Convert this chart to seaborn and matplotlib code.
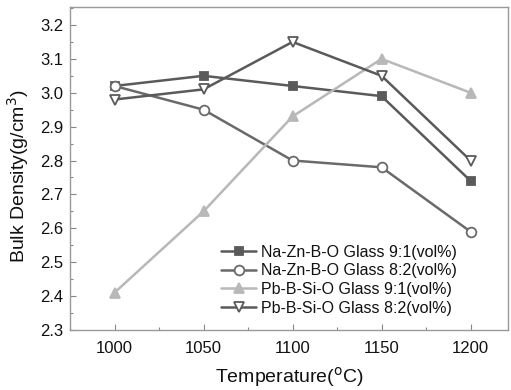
import matplotlib
matplotlib.use("Agg")
import matplotlib.pyplot as plt
import seaborn as sns
import pandas as pd
from matplotlib.ticker import MultipleLocator

temps = [1000, 1050, 1100, 1150, 1200]
nazn_91 = [3.02, 3.05, 3.02, 2.99, 2.74]
nazn_82 = [3.02, 2.95, 2.80, 2.78, 2.59]
pb_91 = [2.41, 2.65, 2.93, 3.10, 3.00]
pb_82 = [2.98, 3.01, 3.15, 3.05, 2.80]
labels = ["Na-Zn-B-O Glass 9:1(vol%)", "Na-Zn-B-O Glass 8:2(vol%)",
          "Pb-B-Si-O Glass 9:1(vol%)", "Pb-B-Si-O Glass 8:2(vol%)"]

sns.set_theme(style="white")
plt.rcParams['font.family'] = ['Liberation Sans', 'DejaVu Sans']

fig = plt.figure(figsize=(5.11, 3.9), dpi=100)
ax = fig.add_axes([0.137, 0.154, 0.857, 0.828])

styles = [
    (nazn_91, "#5a5a5a", "s", "#5a5a5a", 6),
    (nazn_82, "#6a6a6a", "o", "white", 7),
    (pb_91, "#b8b8b8", "^", "#b8b8b8", 7),
    (pb_82, "#5a5a5a", "v", "white", 7),
]
for (vals, col, mk, fc, ms), lab in zip(styles, labels):
    df = pd.DataFrame({"T": temps, "D": vals})
    sns.lineplot(data=df, x="T", y="D", ax=ax, color=col, lw=1.8,
                 marker=mk, markersize=ms, markerfacecolor=fc,
                 markeredgecolor=col, markeredgewidth=1.3, label=lab)

ax.set_xlim(975, 1221)
ax.set_ylim(2.3, 3.253)
ax.set_xticks(temps)
ax.xaxis.set_minor_locator(MultipleLocator(25))
ax.yaxis.set_major_locator(MultipleLocator(0.1))
ax.yaxis.set_minor_locator(MultipleLocator(0.05))
ax.yaxis.set_major_formatter(matplotlib.ticker.FormatStrFormatter('%.1f'))
ax.tick_params(which="both", direction="in", color="#888888", labelsize=12,
               labelcolor="#111111", bottom=True, left=True, top=False, right=False)
ax.tick_params(which="major", length=4, width=0.8)
ax.tick_params(which="minor", length=2.5, width=0.8)
ax.tick_params(axis="x", pad=8)
ax.tick_params(axis="y", pad=5)
for s in ax.spines.values():
    s.set_color("#999999")
    s.set_linewidth(1.0)

ax.set_xlabel("Temperature($^{\\rm o}$C)", fontsize=14, color="#111111")
ax.set_ylabel("Bulk Density(g/cm$^{3}$)", fontsize=14, color="#111111")
ax.xaxis.set_label_coords(0.5, -0.108)
ax.yaxis.set_label_coords(-0.088, 0.475)

leg = ax.legend(loc="lower right", bbox_to_anchor=(0.905, 0.015), frameon=False,
                fontsize=11.5, handlelength=2.2, handletextpad=0.3,
                labelspacing=0.22, borderaxespad=0.2)
for t in leg.get_texts():
    t.set_color("#111111")

fig.savefig("out.png", dpi=100)
